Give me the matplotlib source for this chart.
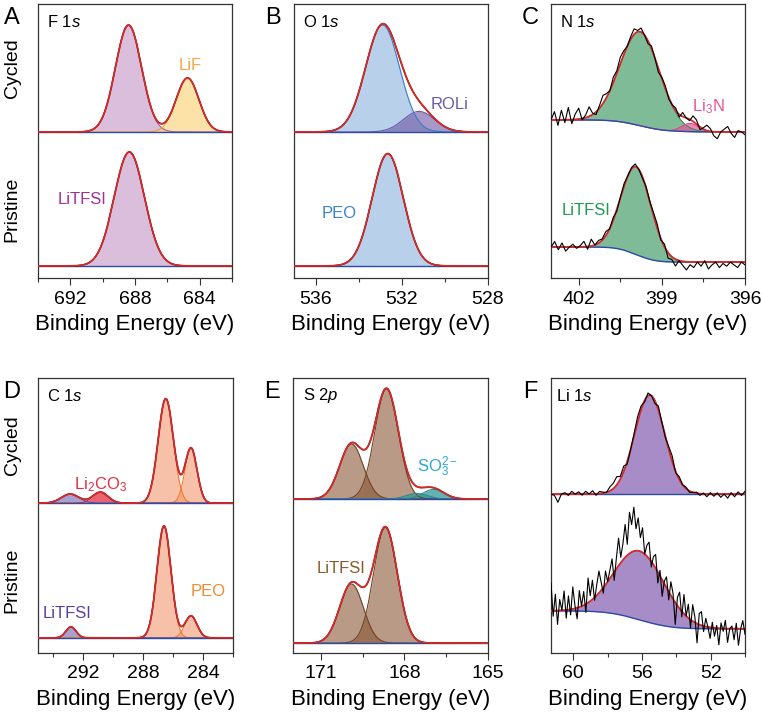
import matplotlib.pyplot as plt
import numpy as np

plt.rcParams["font.family"] = ["Liberation Sans", "DejaVu Sans"]
plt.rcParams["mathtext.fontset"] = "custom"
plt.rcParams["mathtext.rm"] = "Liberation Sans"
plt.rcParams["mathtext.it"] = "Liberation Sans:italic"

# Peak fits: (centre eV, height, FWHM eV); heights in axes fraction
f1s_cyc = [(688.4, 0.39, 1.9), (684.75, 0.197, 1.65)]
f1s_pri = [(688.35, 0.416, 2.2)]
o1s_cyc = [(532.89, 0.39, 1.85), (531.2, 0.075, 1.7)]
o1s_pri = [(532.65, 0.41, 1.7)]
n1s_cyc = [(399.79, 0.343, 1.69), (397.98, 0.03, 0.7)]
n1s_pri = [(399.93, 0.32, 1.28)]
c1s_cyc = [(286.48, 0.38, 1.2), (284.8, 0.20, 0.95), (290.84, 0.04, 1.2), (292.85, 0.033, 1.4)]
c1s_pri = [(286.6, 0.407, 1.1), (284.8, 0.08, 0.95), (292.8, 0.04, 0.8)]
s2p_cyc = [(168.64, 0.40, 1.0), (169.9, 0.20, 1.0), (167.55, 0.02, 0.9), (166.95, 0.035, 0.9)]
s2p_pri = [(168.68, 0.42, 1.0), (169.9, 0.215, 1.0)]
li1s_cyc = [(55.55, 0.36, 2.07)]
li1s_pri = [(56.15, 0.25, 3.45)]

# background levels (high-BE side, low-BE side)
bg_levels = {
    "A": [(0.533, 0.533), (0.044, 0.044)],
    "B": [(0.533, 0.533), (0.044, 0.044)],
    "C": [(0.577, 0.533), (0.113, 0.058)],
    "D": [(0.545, 0.545), (0.055, 0.055)],
    "E": [(0.56, 0.56), (0.036, 0.036)],
    "F": [(0.578, 0.578), (0.153, 0.088)],
}

# raw-data deviations from the fit for the noisy spectra (left to right)
n1s_cyc_noise = [0.0, 0.03, -0.02, 0.035, -0.01, 0.045, -0.015, 0.02, 0.04, -0.005, 0.01, 0.035,
                 0.005, -0.01, 0.01, 0.03, 0.015, 0.0, 0.02, 0.01, 0.025, 0.015, 0.0, 0.01, 0.02,
                 0.005, 0.015, 0.0, -0.01, 0.01, 0.0, -0.015, 0.005, 0.01, -0.005, 0.0, 0.01,
                 -0.01, 0.015, 0.0, -0.005, 0.02, 0.015, -0.01, 0.005, 0.02, 0.01, -0.015, -0.025,
                 0.0, 0.01, 0.02, -0.005, -0.02, 0.005, 0.0, -0.01]
n1s_pri_noise = [0.0, 0.02, -0.01, 0.015, -0.015, 0.0, 0.01, -0.005, 0.005, 0.02, -0.01, 0.025,
                 0.0, 0.01, 0.005, 0.015, 0.0, 0.01, -0.005, 0.005, 0.01, 0.0, 0.005, 0.01, 0.0,
                 -0.005, 0.005, 0.0, 0.01, 0.015, -0.005, 0.01, -0.02, -0.01, -0.025, 0.0, -0.015,
                 -0.03, -0.01, -0.02, 0.0, -0.015, 0.005, -0.025, -0.01, 0.0, -0.02, -0.005,
                 -0.015, 0.0, -0.01, -0.02, 0.0, -0.01]
li1s_cyc_noise = [0.0, -0.005, -0.03, 0.0, 0.005, -0.005, 0.01, 0.0, 0.008, -0.004, 0.01, 0.0,
                  0.012, -0.005, 0.008, 0.004, 0.0, 0.015, 0.02, 0.03, 0.01, 0.02, -0.01, 0.0,
                  0.01, 0.02, 0.015, -0.005, 0.01, 0.0, -0.01, 0.015, 0.0, -0.005, 0.01, 0.02,
                  -0.005, 0.01, 0.0, 0.005, -0.005, 0.0, 0.004, -0.006, 0.003, -0.01, 0.005,
                  -0.008, 0.004, -0.012, 0.0, -0.015, 0.005, -0.01, 0.008, -0.005, 0.01]
li1s_pri_noise = [0.10, -0.02, 0.06, -0.05, 0.04, 0.0, 0.07, -0.03, 0.05, -0.02, 0.08, 0.01,
                  -0.04, 0.06, 0.0, 0.05, -0.03, 0.09, 0.02, 0.07, -0.01, 0.04, 0.08, 0.03,
                  -0.02, 0.05, 0.0, 0.03, 0.06, -0.03, 0.04, 0.10, 0.02, 0.06, 0.12, 0.04, 0.15,
                  0.10, 0.16, 0.08, 0.12, 0.05, 0.09, 0.0, 0.04, 0.06, -0.02, 0.03, 0.05, -0.04,
                  0.02, -0.06, 0.01, 0.04, -0.03, 0.05, 0.02, -0.08, 0.03, 0.06, -0.02, 0.07,
                  0.0, 0.05, -0.03, 0.06, 0.02, -0.07, 0.04, 0.05, -0.02, 0.03, 0.0, -0.04, 0.02,
                  -0.03, 0.01, -0.06, 0.02, -0.01, 0.03, -0.05, 0.0, 0.01, -0.04, 0.02, -0.06,
                  0.0, 0.03, -0.02]

xlims = {"A": (694, 682), "B": (537, 528), "C": (403, 396),
         "D": (295, 282), "E": (172, 165), "F": (61.3, 50)}
major_ticks = {"A": [692, 688, 684], "B": [536, 532, 528], "C": [402, 399, 396],
               "D": [292, 288, 284], "E": [171, 168, 165], "F": [60, 56, 52]}
minor_ticks = {"A": [694, 690, 686, 682], "B": [534, 530], "C": [400.5, 397.5],
               "D": [294, 290, 286, 282], "E": [169.5, 166.5], "F": [58, 54, 50]}
core_levels = {"A": "F 1$\\mathit{s}$", "B": "O 1$\\mathit{s}$", "C": "N 1$\\mathit{s}$",
               "D": "C 1$\\mathit{s}$", "E": "S 2$\\mathit{p}$", "F": "Li 1$\\mathit{s}$"}

# (fill colour, alpha, edge colour) for each component
sty_ftfsi = ("#c494c6", 0.6, "#a060a0")
sty_lif = ("#fccf6e", 0.6, "#f0a030")
sty_peo_o = ("#8ab1dc", 0.6, "#3a7cc4")
sty_roli = ("#6e53a3", 0.6, "#6a5aa8")
sty_n = ("#2a8f50", 0.6, "#3c8c5a")
sty_li3n = ("#e8559a", 0.7, "#e0408a")
sty_c = ("#f0996e", 0.6, "#f07a30")
sty_li2co3 = ("#e43c50", 0.8, "#d03040")
sty_ctfsi = ("#6e61b1", 0.6, "#6050a0")
sty_s = ("#895735", 0.6, "#6e4424")
sty_so3 = ("#2f9a9a", 0.75, "#2a8a8a")
sty_li = ("#6e3fa3", 0.6, "#7050a8")

W, H = 762, 717
fig = plt.figure(figsize=(W / 100, H / 100), dpi=100)


def rect(l, r, t, b):
    return [l / W, 1 - b / H, (r - l) / W, (b - t) / H]


def gauss(e, c, h, w):
    return h * np.exp(-4 * np.log(2) * (e - c) ** 2 / w ** 2)


def draw(ax, key, peaks, styles, bg, noise=None):
    lo, hi = min(xlims[key]), max(xlims[key])
    energy = np.linspace(lo, hi, 900)
    comps = [gauss(energy, *p) for p in peaks]
    total = np.sum(comps, axis=0)
    # Shirley-like step, higher on the high binding energy side
    step = np.cumsum(total)
    step = step / step[-1]
    back = bg[1] + (bg[0] - bg[1]) * step
    for comp, (fc, a, ec) in zip(comps, styles):
        ax.fill_between(energy, back, back + comp, color=fc, alpha=a, lw=0, zorder=1)
        ax.plot(energy, back + comp, color=ec, lw=0.8, zorder=2)
    ax.plot(energy, back, color="#2c4aa8", lw=1.0, zorder=3)
    fit = back + total
    if noise is None:
        ax.plot(energy, fit, color="k", lw=1.0, zorder=4)
        ax.plot(energy, fit, color="#d42a2a", lw=1.3, zorder=5)
    else:
        raw_e = np.linspace(xlims[key][0], xlims[key][1], len(noise))
        raw = np.interp(raw_e, energy, fit) + np.array(noise)
        ax.plot(energy, fit, color="#d42a2a", lw=1.3, zorder=4)
        ax.plot(raw_e, raw, color="k", lw=0.8, zorder=5)


panels = {
    "A": (38, 232, 4, 278), "B": (294, 488, 4, 278), "C": (551, 745, 4, 278),
    "D": (38, 233, 378, 653), "E": (293, 488, 378, 653), "F": (551, 745, 378, 653),
}
label_x = {"A": 0.046, "B": 0.046, "C": 0.046, "D": 0.046, "E": 0.05, "F": 0.025}
axes = {}
for key, (l, r, t, b) in panels.items():
    ax = fig.add_axes(rect(l, r, t, b))
    ax.set_xlim(*xlims[key])
    ax.set_ylim(0, 1)
    ax.set_yticks([])
    ax.set_xticks(major_ticks[key])
    ax.set_xticks(minor_ticks[key], minor=True)
    ax.tick_params(axis="x", which="major", direction="out", length=5, width=0.8,
                   labelsize=14, pad=4, colors="#333333", labelcolor="k")
    ax.tick_params(axis="x", which="minor", direction="out", length=3, width=0.8,
                   colors="#333333")
    for sp in ax.spines.values():
        sp.set_color("#333333")
        sp.set_linewidth(0.9)
    ax.set_xlabel("Binding Energy (eV)", fontsize=16, labelpad=5)
    ax.text(label_x[key], 0.935, core_levels[key], transform=ax.transAxes,
            fontsize=12, ha="left", va="center")
    fig.text(((l - 26) if key in "AD" else (l - 21)) / W, 1 - (t + 14) / H, key,
             fontsize=17, ha="center", va="center")
    axes[key] = ax

draw(axes["A"], "A", f1s_cyc, [sty_ftfsi, sty_lif], bg_levels["A"][0])
draw(axes["A"], "A", f1s_pri, [sty_ftfsi], bg_levels["A"][1])
draw(axes["B"], "B", o1s_cyc, [sty_peo_o, sty_roli], bg_levels["B"][0])
draw(axes["B"], "B", o1s_pri, [sty_peo_o], bg_levels["B"][1])
draw(axes["C"], "C", n1s_cyc, [sty_n, sty_li3n], bg_levels["C"][0], n1s_cyc_noise)
draw(axes["C"], "C", n1s_pri, [sty_n], bg_levels["C"][1], n1s_pri_noise)
draw(axes["D"], "D", c1s_cyc, [sty_c, sty_c, sty_li2co3, sty_ctfsi], bg_levels["D"][0])
draw(axes["D"], "D", c1s_pri, [sty_c, sty_c, sty_ctfsi], bg_levels["D"][1])
draw(axes["E"], "E", s2p_cyc, [sty_s, sty_s, sty_so3, sty_so3], bg_levels["E"][0])
draw(axes["E"], "E", s2p_pri, [sty_s, sty_s], bg_levels["E"][1])
draw(axes["F"], "F", li1s_cyc, [sty_li], bg_levels["F"][0], li1s_cyc_noise)
draw(axes["F"], "F", li1s_pri, [sty_li], bg_levels["F"][1], li1s_pri_noise)

# component labels
axes["A"].text(684.56, 0.777, "LiF", color="#f5a742", fontsize=12, ha="center", va="center")
axes["A"].text(691.27, 0.285, "LiTFSI", color="#a0309c", fontsize=12, ha="center", va="center")
axes["B"].text(529.8, 0.635, "ROLi", color="#6a5aaa", fontsize=12, ha="center", va="center")
axes["B"].text(534.9, 0.237, "PEO", color="#3a85c8", fontsize=12, ha="center", va="center")
axes["C"].text(397.33, 0.624, "Li$_3$N", color="#e8559a", fontsize=12, ha="center", va="center")
axes["C"].text(401.74, 0.248, "LiTFSI", color="#1e9a55", fontsize=12, ha="center", va="center")
axes["D"].text(290.84, 0.611, "Li$_2$CO$_3$", color="#e03040", fontsize=12, ha="center", va="center")
axes["D"].text(293.05, 0.142, "LiTFSI", color="#5a3fa0", fontsize=12, ha="center", va="center")
axes["D"].text(283.66, 0.222, "PEO", color="#f08a30", fontsize=12, ha="center", va="center")
axes["E"].text(166.8, 0.676, "SO$_3^{2-}$", color="#2aa8d0", fontsize=12, ha="center", va="center")
axes["E"].text(170.29, 0.309, "LiTFSI", color="#8a5a2a", fontsize=12, ha="center", va="center")

# row labels
for y in (68, 445):
    fig.text(12 / W, 1 - y / H, "Cycled", rotation=90, fontsize=14, ha="center", va="center")
for y in (209, 580):
    fig.text(12 / W, 1 - y / H, "Pristine", rotation=90, fontsize=14, ha="center", va="center")

fig.savefig("out.png", dpi=100)
